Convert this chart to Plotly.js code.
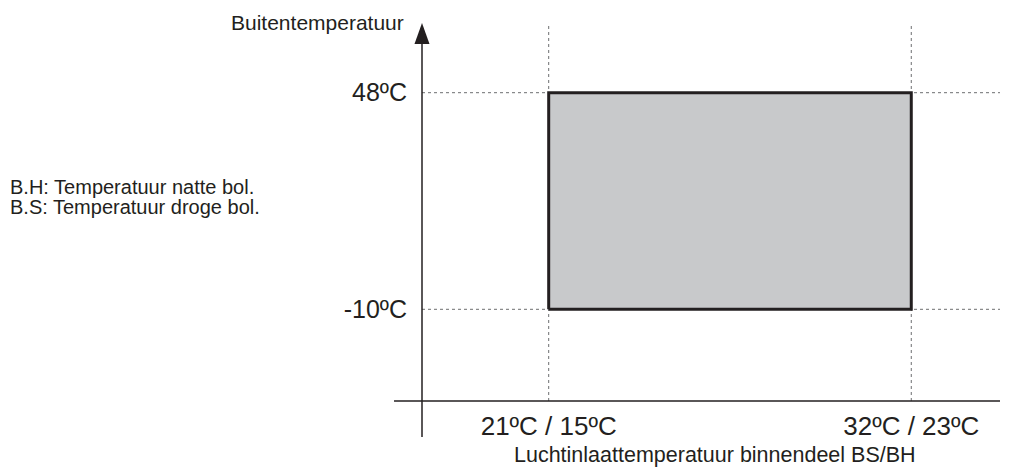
<!DOCTYPE html>
<html>
<head>
<meta charset="utf-8">
<script src="https://cdn.plot.ly/plotly-3.0.1.min.js"></script>
<style>html,body{margin:0;padding:0;background:#fff;}#chart{width:1011px;height:470px;}</style>
</head>
<body>
<div id="chart"></div>
<script>
// Data
const xValues = [21, 32];
const xLabels = ['21ºC / 15ºC', '32ºC / 23ºC'];
const yValues = [-10, 48];
const yLabels = ['-10ºC', '48ºC'];
const xTitle = 'Luchtinlaattemperatuur binnendeel BS/BH';
const yTitle = 'Buitentemperatuur';
const notes = ['B.H: Temperatuur natte bol.', 'B.S: Temperatuur droge bol.'];

const FONT = 'Liberation Sans, Arial, Helvetica, sans-serif';
const INK = '#231f20';

const rect = {
  type: 'scatter',
  mode: 'lines',
  x: [xValues[0], xValues[1], xValues[1], xValues[0], xValues[0]],
  y: [yValues[0], yValues[0], yValues[1], yValues[1], yValues[0]],
  fill: 'toself',
  fillcolor: '#c8c9cb',
  line: {color: INK, width: 3},
  hoverinfo: 'skip',
  cliponaxis: false,
  showlegend: false
};

const gridDash = '3px,3px';
const shapes = [];
xValues.forEach(v => shapes.push({type: 'line', xref: 'x', yref: 'paper', x0: v, x1: v, y0: 0, y1: 0.9974,
  line: {color: '#6d6e70', width: 1, dash: gridDash}, layer: 'below'}));
yValues.forEach(v => shapes.push({type: 'line', xref: 'paper', yref: 'y', x0: 0, x1: 1, y0: v, y1: v,
  line: {color: '#6d6e70', width: 1, dash: gridDash}, layer: 'below'}));
// axis lines with arrow
shapes.push({type: 'line', xref: 'paper', yref: 'paper', x0: 0, x1: 0, y0: -0.095, y1: 0.95,
  line: {color: INK, width: 1.5}});
shapes.push({type: 'line', xref: 'paper', yref: 'paper', x0: -0.0484, x1: 1, y0: 0, y1: 0,
  line: {color: INK, width: 1.5}});
shapes.push({type: 'path', xref: 'paper', yref: 'paper',
  path: 'M 0 0.9974 L -0.013 0.942 L 0.013 0.942 Z', fillcolor: INK, line: {color: INK, width: 0}});

const annotations = [
  {text: yTitle, xref: 'paper', yref: 'paper', x: -0.0277, y: 1.0, xanchor: 'right', yanchor: 'middle',
   showarrow: false, font: {family: FONT, size: 21, color: INK}},
  {text: xTitle, xref: 'paper', yref: 'paper', x: 0.507, y: -0.1425, xanchor: 'center', yanchor: 'middle',
   showarrow: false, font: {family: FONT, size: 21.5, color: INK}},
  {text: notes[0], xref: 'paper', yref: 'paper', x: -0.7163, y: 0.5646, xanchor: 'left', yanchor: 'middle',
   showarrow: false, font: {family: FONT, size: 20, color: INK}},
  {text: notes[1], xref: 'paper', yref: 'paper', x: -0.7163, y: 0.5119, xanchor: 'left', yanchor: 'middle',
   showarrow: false, font: {family: FONT, size: 20, color: INK}}
];

const layout = {
  width: 1011, height: 470,
  margin: {l: 422, r: 11, t: 22, b: 69, pad: 0},
  paper_bgcolor: '#fff', plot_bgcolor: '#fff',
  font: {family: FONT, color: INK},
  xaxis: {range: [17.156, 34.692], showgrid: false, zeroline: false, showline: false,
    tickmode: 'array', tickvals: xValues, ticktext: xLabels, ticks: '',
    tickfont: {family: FONT, size: 26, color: INK}, ticklabelstandoff: 7, fixedrange: true},
  yaxis: {range: [-34.55, 66.93], showgrid: false, zeroline: false, showline: false,
    tickmode: 'array', tickvals: yValues, ticktext: yLabels, ticks: '',
    tickfont: {family: FONT, size: 25, color: INK}, ticklabelstandoff: 14, fixedrange: true},
  shapes: shapes,
  annotations: annotations,
  showlegend: false
};

Plotly.newPlot('chart', [rect], layout, {displayModeBar: false, staticPlot: true});
</script>
</body>
</html>
